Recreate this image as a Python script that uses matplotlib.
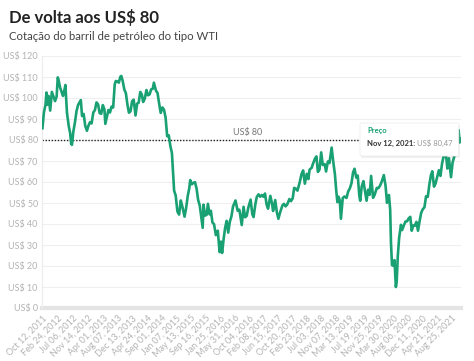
import matplotlib
matplotlib.use("Agg")
import matplotlib.pyplot as plt
from matplotlib.patches import FancyBboxPatch
import pandas as pd

# WTI price (about two points per month)
dates = [
    "2011-10-12", "2011-10-25", "2011-11-08", "2011-11-16", "2011-11-25", "2011-12-05", "2011-12-19",
    "2012-01-03", "2012-01-17", "2012-01-31", "2012-02-14", "2012-02-24", "2012-03-01", "2012-03-15",
    "2012-03-29", "2012-04-10", "2012-04-24", "2012-05-01", "2012-05-15", "2012-05-31", "2012-06-12",
    "2012-06-21", "2012-06-28", "2012-07-10", "2012-07-24", "2012-08-07", "2012-08-21", "2012-09-14",
    "2012-09-25", "2012-10-09", "2012-10-23", "2012-11-07", "2012-11-20", "2012-12-04", "2012-12-18",
    "2013-01-02", "2013-01-16", "2013-01-30", "2013-02-13", "2013-02-27", "2013-03-13", "2013-03-27",
    "2013-04-10", "2013-04-18", "2013-05-01", "2013-05-15", "2013-05-29", "2013-06-12", "2013-06-26",
    "2013-07-10", "2013-07-19", "2013-08-01", "2013-08-15", "2013-08-28", "2013-09-06", "2013-09-18",
    "2013-10-02", "2013-10-16", "2013-10-30", "2013-11-12", "2013-11-26", "2013-12-10", "2013-12-24",
    "2014-01-09", "2014-01-23", "2014-02-06", "2014-02-20", "2014-03-06", "2014-03-17", "2014-04-01",
    "2014-04-15", "2014-04-29", "2014-05-13", "2014-05-27", "2014-06-10", "2014-06-20", "2014-07-08",
    "2014-07-22", "2014-08-05", "2014-08-19", "2014-09-03", "2014-09-17", "2014-10-01", "2014-10-15",
    "2014-10-29", "2014-11-12", "2014-11-26", "2014-12-03", "2014-12-15", "2014-12-29",
    "2015-01-13", "2015-01-28", "2015-02-12", "2015-02-26", "2015-03-17", "2015-03-31", "2015-04-14",
    "2015-04-28", "2015-05-06", "2015-05-20", "2015-06-03", "2015-06-17", "2015-07-01", "2015-07-15",
    "2015-07-29", "2015-08-12", "2015-08-24", "2015-08-31", "2015-09-14", "2015-09-28", "2015-10-09",
    "2015-10-23", "2015-11-04", "2015-11-18", "2015-12-02", "2015-12-18",
    "2016-01-04", "2016-01-20", "2016-02-01", "2016-02-11", "2016-02-25", "2016-03-09", "2016-03-22",
    "2016-04-05", "2016-04-19", "2016-05-03", "2016-05-17", "2016-06-08", "2016-06-27", "2016-07-12",
    "2016-08-02", "2016-08-18", "2016-09-01", "2016-09-15", "2016-09-29", "2016-10-19", "2016-11-03",
    "2016-11-14", "2016-11-30", "2016-12-12", "2016-12-28",
    "2017-01-12", "2017-01-26", "2017-02-09", "2017-02-23", "2017-03-09", "2017-03-22", "2017-04-11",
    "2017-04-26", "2017-05-05", "2017-05-24", "2017-06-07", "2017-06-21", "2017-07-06", "2017-07-26",
    "2017-08-09", "2017-08-23", "2017-09-06", "2017-09-26", "2017-10-10", "2017-10-25", "2017-11-07",
    "2017-11-21", "2017-12-06", "2017-12-26",
    "2018-01-11", "2018-01-25", "2018-02-09", "2018-02-26", "2018-03-12", "2018-03-23", "2018-04-11",
    "2018-04-19", "2018-05-09", "2018-05-22", "2018-06-04", "2018-06-18", "2018-07-03", "2018-07-17",
    "2018-08-03", "2018-08-15", "2018-08-31", "2018-09-14", "2018-10-03", "2018-10-17", "2018-11-01",
    "2018-11-13", "2018-11-23", "2018-12-03", "2018-12-14", "2018-12-24",
    "2019-01-09", "2019-01-24", "2019-02-11", "2019-02-26", "2019-03-12", "2019-03-27", "2019-04-10",
    "2019-04-23", "2019-05-08", "2019-05-21", "2019-06-04", "2019-06-12", "2019-06-25", "2019-07-10",
    "2019-07-24", "2019-08-07", "2019-08-20", "2019-09-03", "2019-09-16", "2019-10-03", "2019-10-17",
    "2019-11-05", "2019-11-20", "2019-12-05", "2019-12-20",
    "2020-01-06", "2020-01-21", "2020-02-03", "2020-02-20", "2020-03-02", "2020-03-09", "2020-03-18",
    "2020-03-30", "2020-04-09", "2020-04-21", "2020-04-28", "2020-05-08", "2020-05-20", "2020-06-05",
    "2020-06-15", "2020-06-30", "2020-07-15", "2020-07-29", "2020-08-12", "2020-08-26", "2020-09-08",
    "2020-09-21", "2020-10-05", "2020-10-19", "2020-11-02", "2020-11-16", "2020-11-30", "2020-12-14",
    "2020-12-29",
    "2021-01-12", "2021-01-27", "2021-02-10", "2021-02-24", "2021-03-08", "2021-03-23", "2021-04-06",
    "2021-04-20", "2021-05-05", "2021-05-19", "2021-06-02", "2021-06-16", "2021-07-06", "2021-07-19",
    "2021-08-02", "2021-08-20", "2021-09-03", "2021-09-17", "2021-10-05", "2021-10-26", "2021-11-04",
    "2021-11-12",
]
prices = [
    85.6, 93.2, 96.8, 102.6, 96.8, 101.0, 94.0,
    102.9, 100.7, 98.5, 100.7, 109.8, 108.8, 105.1,
    102.8, 101.0, 104.1, 106.2, 93.0, 86.5, 83.3,
    78.2, 77.7, 83.9, 88.3, 93.7, 96.7, 99.0,
    91.4, 92.4, 86.7, 84.4, 86.8, 88.5, 87.9,
    93.1, 94.2, 97.9, 97.0, 92.8, 92.5, 96.6,
    94.6, 87.7, 91.0, 94.3, 93.1, 95.9, 95.5,
    106.5, 108.1, 107.9, 107.3, 110.1, 110.5, 108.1,
    104.1, 102.3, 96.8, 93.0, 93.7, 98.5, 99.2,
    91.7, 97.3, 97.8, 102.9, 101.6, 98.1, 99.7,
    103.8, 101.3, 101.7, 104.1, 104.4, 107.3, 103.5,
    102.4, 97.4, 92.9, 95.5, 94.4, 90.7, 81.8,
    82.2, 77.2, 73.7, 67.4, 55.9, 53.6,
    46.0, 44.5, 51.2, 48.2, 43.5, 47.6, 53.3,
    57.1, 60.9, 58.9, 59.6, 59.9, 56.9, 51.4,
    48.8, 43.3, 38.2, 49.2, 44.0, 44.4, 49.6,
    44.6, 46.3, 40.7, 39.9, 34.7,
    36.8, 26.6, 31.6, 26.2, 33.1, 38.3, 41.5,
    35.9, 41.1, 43.6, 48.3, 51.2, 46.3, 46.8,
    39.5, 48.2, 43.2, 43.9, 47.8, 51.6, 44.7,
    43.3, 49.4, 52.8, 54.1,
    53.0, 53.8, 53.0, 54.5, 49.3, 47.3, 53.4,
    49.6, 46.2, 51.4, 45.7, 42.5, 45.5, 48.8,
    49.6, 48.4, 49.2, 51.9, 50.9, 52.2, 57.2,
    56.8, 55.9, 59.9,
    63.8, 65.5, 59.2, 63.9, 61.4, 65.9, 66.8,
    68.3, 71.1, 72.2, 64.8, 65.9, 74.1, 68.1,
    68.5, 65.0, 69.8, 69.0, 76.4, 69.8, 63.7,
    55.7, 50.4, 53.0, 51.2, 42.5,
    52.4, 53.1, 52.4, 55.5, 56.9, 59.4, 64.6,
    66.3, 62.1, 63.1, 53.5, 51.1, 57.8, 60.4,
    55.9, 51.1, 56.3, 53.9, 62.9, 52.5, 53.9,
    57.2, 57.1, 58.4, 60.4,
    63.3, 58.3, 50.1, 53.8, 46.8, 31.1, 20.4,
    20.1, 22.8, 10.0, 12.3, 24.7, 33.5, 39.6,
    37.1, 39.3, 41.2, 41.3, 42.7, 43.4, 36.8,
    39.3, 39.2, 41.0, 36.8, 41.3, 45.3, 47.0,
    48.0,
    53.2, 52.9, 58.7, 63.2, 65.1, 57.8, 59.3,
    62.4, 65.6, 62.9, 68.8, 72.2, 73.4, 66.4,
    71.3, 62.3, 69.3, 72.0, 78.9, 84.7, 78.8,
    80.47,
]
tick_dates = [
    "2011-10-12", "2012-02-24", "2012-07-06", "2012-11-14", "2013-04-01", "2013-08-07",
    "2013-12-13", "2014-04-24", "2014-09-01", "2015-01-07", "2015-05-13", "2015-09-16",
    "2016-01-25", "2016-05-31", "2016-10-04", "2017-02-08", "2017-06-15", "2017-10-20",
    "2018-02-23", "2018-07-03", "2018-11-07", "2019-03-13", "2019-07-19", "2019-11-25",
    "2020-03-30", "2020-08-06", "2020-12-11", "2021-04-21", "2021-08-25",
]
y_ticks = [0, 10, 20, 30, 40, 50, 60, 70, 80, 90, 100, 110, 120]
ref_level = 80

plt.rcParams['font.family'] = ['Lato', 'DejaVu Sans']

W, H = 474, 361
fig = plt.figure(figsize=(W / 100, H / 100), dpi=100)
fig.patch.set_facecolor('white')

def px(x, y):
    # pixel position -> figure fraction
    return x / W, 1 - y / H

ax = fig.add_axes([42 / W, 1 - 308 / H, (461 - 42) / W, (308 - 56) / H])

x = pd.to_datetime(dates)
ticks = pd.to_datetime(tick_dates)

ax.plot(x, prices, color='#19a073', lw=1.9, solid_joinstyle='round', zorder=3)
ax.axhline(ref_level, color='#222222', lw=1.0, ls=(0, (1, 1.2)), zorder=2)
ax.axhline(0, color='#e4e4e4', lw=3, zorder=1, clip_on=False)

ax.set_ylim(0, 120)
ax.set_xlim(pd.Timestamp("2011-10-08"), pd.Timestamp("2021-11-16"))
ax.set_yticks(y_ticks)
ax.set_yticklabels([f"US$ {v}" for v in y_ticks])
ax.set_xticks(ticks)
ax.set_xticklabels([d.strftime("%b %d, %Y") for d in ticks], rotation=45, ha='right',
                   rotation_mode='anchor')
ax.tick_params(axis='both', length=0, colors='#b3b3b3', labelsize=6.5)
ax.tick_params(axis='y', pad=3)
ax.tick_params(axis='x', pad=4)
ax.grid(axis='y', color='#efefef', lw=0.8)
ax.set_axisbelow(True)
for side in ['top', 'right', 'bottom']:
    ax.spines[side].set_visible(False)
ax.spines['left'].set_color('#ececec')

# label of the reference line
ax.text(pd.Timestamp("2016-09-20"), ref_level + 1.2, "US$ 80", color='#777777',
        fontsize=6.5, ha='center', va='bottom')

# tooltip: texts first, box sized around them
t1 = fig.text(*px(367, 131), "Preço", color='#19a073', fontsize=5.5, fontweight='bold',
              va='center', zorder=7)
t2 = fig.text(*px(367, 143), "Nov 12, 2021:", color='#333333', fontsize=5.5, fontweight='bold',
              va='center', zorder=7)
fig.canvas.draw()
r = fig.canvas.get_renderer()
e2 = t2.get_window_extent(r)
t3 = fig.text((e2.x1 + 2) / W, t2.get_position()[1], "US$ 80,47", color='#999999',
              fontsize=5.5, va='center', zorder=7)
e3 = t3.get_window_extent(r)
x0, y0 = px(360, 156)
bw = (e3.x1 + 6) / W - x0
bh = 33 / H
shadow = FancyBboxPatch((x0 + 0.002, y0 - 0.005), bw, bh, boxstyle="round,pad=0,rounding_size=0.004",
                        transform=fig.transFigure, facecolor='#000000', alpha=0.07,
                        edgecolor='none', zorder=5)
box = FancyBboxPatch((x0, y0), bw, bh, boxstyle="round,pad=0,rounding_size=0.004",
                     transform=fig.transFigure, facecolor='white', edgecolor='#eeeeee',
                     lw=0.6, zorder=6)
fig.patches.extend([shadow, box])

# titles
fig.text(*px(9, 18), "De volta aos US$ 80", fontsize=12, fontweight='bold',
         color='#222222', va='center')
fig.text(*px(9, 37), "Cotação do barril de petróleo do tipo WTI", fontsize=8.2,
         color='#444444', va='center')

fig.savefig("out.png", dpi=100)
